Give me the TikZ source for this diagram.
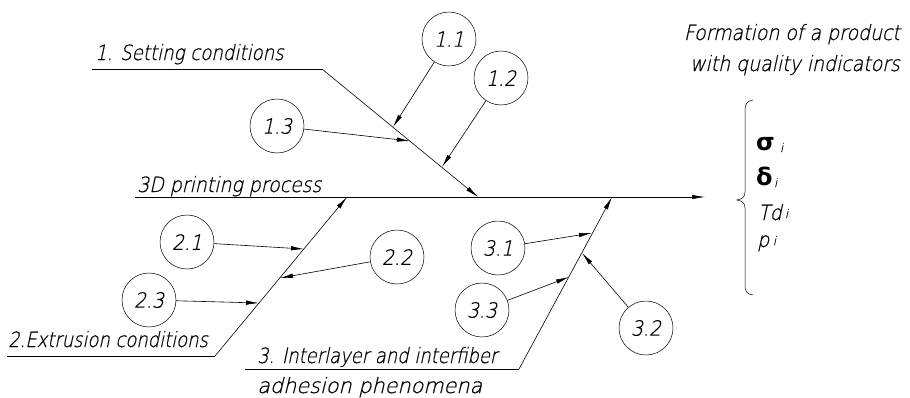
\documentclass[tikz,border=0pt]{standalone}
\usepackage{fontspec}
\usetikzlibrary{arrows.meta}
\newfontfamily\gost[FakeSlant=0.22,FakeStretch=0.9,FakeBold=0.6]{DejaVu Sans ExtraLight}
\newfontfamily\grk{DejaVu Sans}
\begin{document}
\begin{tikzpicture}[x=1pt,y=-1pt,
 ln/.style={line width=0.6pt},
 arr/.style={ln,-{Latex[length=13pt,width=4.5pt]}},
 num/.style={circle,draw,line width=0.5pt,minimum size=54pt,inner sep=0pt,font=\gost\fontsize{21}{21}\selectfont},
 lbl/.style={anchor=base west,inner sep=0pt,font=\gost\fontsize{21}{21}\selectfont},
 lble/.style={anchor=base east,inner sep=0pt,font=\gost\fontsize{21}{21}\selectfont},
 gr/.style={anchor=base west,inner sep=0pt,font=\grk\bfseries\fontsize{24}{24}\selectfont},
 sub/.style={anchor=base west,inner sep=0pt,font=\gost\fontsize{12}{12}\selectfont}]
\useasboundingbox (0,0) rectangle (910,397);
% main line
\coordinate (m0) at (135,197);
\coordinate (m1) at (705,197);
\draw[arr] (m0) -- (m1);
\node[lbl] (tmain) at (137,192) {3D printing process};
% branch 1
\coordinate (b1s) at (92,69);
\coordinate (b1k) at (322,69);
\coordinate (b1e) at (478,197);
\draw[ln] (b1s) -- (b1k);
\draw[arr] (b1k) -- (b1e);
\node[lbl] (t1) at (95,60) {\scalebox{0.96}[1]{1. Setting conditions}};
\coordinate (p11) at (393,127);
\coordinate (p12) at (442,167);
\coordinate (p13) at (410,141);
\node[num] (c11) at (449,39) {1.1};
\node[num] (c12) at (501,78) {1.2};
\node[num] (c13) at (277,126) {1.3};
\draw[arr] (c11) -- (p11);
\draw[arr] (c12) -- (p12);
\draw[arr] (c13) -- (p13);
% branch 2
\coordinate (b2s) at (7,356);
\coordinate (b2k) at (215,356);
\coordinate (b2e) at (347,197);
\draw[ln] (b2s) -- (b2k);
\draw[arr] (b2k) -- (b2e);
\node[lbl] (t2) at (8,347) {\scalebox{0.95}[1]{2.Extrusion conditions}};
\coordinate (p21) at (304,249);
\coordinate (p22) at (280,278);
\coordinate (p23) at (259,303);
\node[num] (c21) at (187,242) {2.1};
\node[num] (c22) at (397,257) {2.2};
\node[num] (c23) at (149,300) {2.3};
\draw[arr] (c21) -- (p21);
\draw[arr] (c22) -- (p22);
\draw[arr] (c23) -- (p23);
% branch 3
\coordinate (b3s) at (245,369);
\coordinate (b3k) at (519,369);
\coordinate (b3e) at (612,197);
\draw[ln] (b3s) -- (b3k);
\draw[arr] (b3k) -- (b3e);
\node[lbl] (t3a) at (257,363) {\scalebox{0.95}[1]{3. Interlayer and interfiber}};
\node[lbl] (t3b) at (257,393) {\scalebox{1.1}[1]{adhesion phenomena}};
\coordinate (p31) at (592,233);
\coordinate (p32) at (582,253);
\coordinate (p33) at (569,277);
\node[num] (c31) at (498,248) {3.1};
\node[num] (c32) at (646,328) {3.2};
\node[num] (c33) at (482,310) {3.3};
\draw[arr] (c31) -- (p31);
\draw[arr] (c32) -- (p32);
\draw[arr] (c33) -- (p33);
% result
\node[lble] (tr1) at (900,40) {Formation of a product};
\node[lble] (tr2) at (900,71) {with quality indicators};
\draw[line width=0.5pt] (753,100) .. controls (747,101) and (745,104) .. (745,110) -- (745,192)
  .. controls (745,197) and (742,199) .. (737,200) .. controls (742,201) and (745,203) .. (745,208)
  -- (745,285) .. controls (745,292) and (747,294) .. (753,295);
\node[gr] (sg) at (756,150) {σ};
\node[sub] (sgi) at (780,152) {i};
\node[gr] (dl) at (756,185) {δ};
\node[sub] (dli) at (774,187) {i};
\node[lbl] (td) at (758,220) {Td};
\node[sub] (tdi) at ([xshift=3pt,yshift=2pt]td.base east) {i};
\node[lbl] (pp) at (757,247) {p};
\node[sub] (ppi) at ([xshift=3.5pt,yshift=2pt]pp.base east) {i};
\end{tikzpicture}
\end{document}
